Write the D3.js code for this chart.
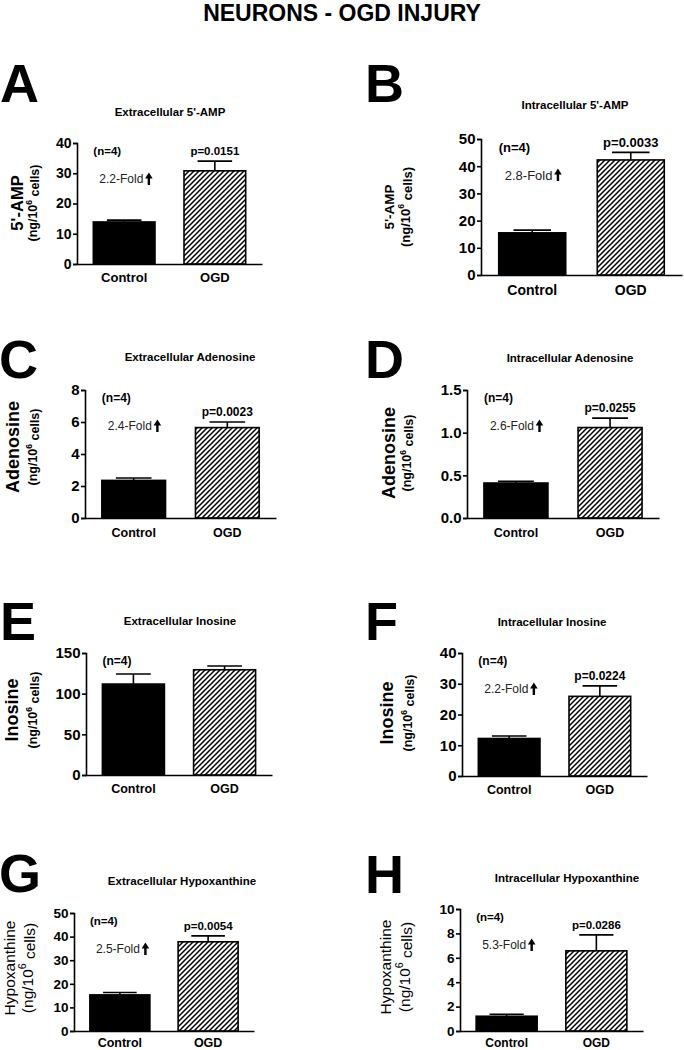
<!DOCTYPE html>
<html>
<head>
<meta charset="utf-8">
<script src="https://cdn.jsdelivr.net/npm/d3@7"></script>
<style>
  html, body { margin: 0; padding: 0; background: #fff; }
  svg { display: block; font-family: "Liberation Sans", Arial, Helvetica, sans-serif; }
</style>
</head>
<body>
<svg id="chart" width="684" height="1050"></svg>
<script>
// ---------------- DATA ----------------
const figureTitle = "NEURONS - OGD INJURY";
const panelLetters = ["A", "B", "C", "D", "E", "F", "G", "H"];
const panelTitles = [
  "Extracellular 5'-AMP", "Intracellular 5'-AMP",
  "Extracellular Adenosine", "Intracellular Adenosine",
  "Extracellular Inosine", "Intracellular Inosine",
  "Extracellular Hypoxanthine", "Intracellular Hypoxanthine"
];
const groups = ["Control", "OGD"];
const yAxisLabels = ["5'-AMP", "5'-AMP", "Adenosine", "Adenosine", "Inosine", "Inosine", "Hypoxanthine", "Hypoxanthine"];
const unitParts = ["(ng/10", "6", " cells)"];
const controlMean = [13.9, 15.5, 2.35, 0.41, 111.8, 12.2, 15.3, 1.21];
const controlErr  = [0.6, 1.0, 0.15, 0.02, 12.3, 0.8, 1.0, 0.16];
const ogdMean     = [30.8, 42.3, 5.65, 1.06, 129.4, 25.9, 37.8, 6.57];
const ogdErr      = [3.2, 2.8, 0.35, 0.11, 4.6, 3.4, 2.5, 1.31];
const yTicks = [
  [0, 10, 20, 30, 40], [0, 10, 20, 30, 40, 50],
  [0, 2, 4, 6, 8], [0, 0.5, 1.0, 1.5],
  [0, 50, 100, 150], [0, 10, 20, 30, 40],
  [0, 10, 20, 30, 40, 50], [0, 2, 4, 6, 8, 10]
];
const yTickFormats = ["d", "d", "d", ".1f", "d", "d", "d", "d"];
const nLabels = ["(n=4)", "(n=4)", "(n=4)", "(n=4)", "(n=4)", "(n=4)", "(n=4)", "(n=4)"];
const foldLabels = ["2.2-Fold", "2.8-Fold", "2.4-Fold", "2.6-Fold", null, "2.2-Fold", "2.5-Fold", "5.3-Fold"];
const pLabels = ["p=0.0151", "p=0.0033", "p=0.0023", "p=0.0255", null, "p=0.0224", "p=0.0054", "p=0.0286"];

// ---------------- LAYOUT ----------------
const layout = [
  {ax: 77,  end: 262, top: 143, bot: 264,  lx: 0,   ly: 102, tx: 170, ty: 112, l1: 17,  l2: 33,  lyc: 203, f1: 16.5, w1: "bold", f2: 12.5, w2: "bold", tick: 14, cat: 13, catY: 13, ann: 11.5, fold: 12},
  {ax: 481, end: 682, top: 139, bot: 275,  lx: 365, ly: 102, tx: 575, ty: 105, l1: 389, l2: 405, lyc: 207, f1: 13.5, w1: "bold", f2: 13, w2: "bold", tick: 15, cat: 14, catY: 15, ann: 13, fold: 13},
  {ax: 85,  end: 276, top: 390, bot: 518,  lx: -1,  ly: 378, tx: 190, ty: 357, l1: 13,  l2: 33,  lyc: 447, f1: 18, w1: "bold", f2: 12.5, w2: "bold", tick: 15, cat: 12.5, catY: 15, ann: 12, fold: 12},
  {ax: 467, end: 659, top: 390, bot: 518,  lx: 365, ly: 378, tx: 570, ty: 358, l1: 389, l2: 407, lyc: 453, f1: 18, w1: "bold", f2: 12.5, w2: "bold", tick: 15, cat: 12.5, catY: 15, ann: 12, fold: 12},
  {ax: 86,  end: 272, top: 653, bot: 775,  lx: 0,   ly: 640, tx: 180, ty: 621, l1: 12,  l2: 33,  lyc: 710, f1: 18, w1: "bold", f2: 12.5, w2: "bold", tick: 15, cat: 12.5, catY: 14, ann: 12, fold: 12},
  {ax: 462, end: 647, top: 653, bot: 776,  lx: 365, ly: 640, tx: 552, ty: 622, l1: 387, l2: 408, lyc: 713, f1: 18, w1: "bold", f2: 12.5, w2: "bold", tick: 15, cat: 12.5, catY: 13.5, ann: 12, fold: 12},
  {ax: 74,  end: 254, top: 913, bot: 1031, lx: -1,  ly: 892, tx: 182, ty: 881, l1: 9,   l2: 27,  lyc: 968, f1: 15.5, w1: "normal", f2: 15.5, w2: "normal", tick: 13.5, cat: 12.5, catY: 12, ann: 11.5, fold: 12},
  {ax: 460, end: 643, top: 909, bot: 1031, lx: 365, ly: 893, tx: 567, ty: 878, l1: 385, l2: 404, lyc: 967, f1: 15.5, w1: "normal", f2: 15.5, w2: "normal", tick: 13.5, cat: 12, catY: 12, ann: 11.5, fold: 12}
];

const svg = d3.select("#chart");

// hatch pattern
const HS = 5;
const defs = svg.append("defs");
const pat = defs.append("pattern")
  .attr("id", "hatch").attr("patternUnits", "userSpaceOnUse")
  .attr("width", HS).attr("height", HS);
pat.append("rect").attr("width", HS).attr("height", HS).attr("fill", "#fff");
pat.append("path")
  .attr("d", `M-1,1 l2,-2 M0,${HS} l${HS},-${HS} M${HS - 1},${HS + 1} l2,-2`)
  .attr("stroke", "#000").attr("stroke-width", 1.5);

// figure title
svg.append("text")
  .attr("x", 342).attr("y", 21)
  .attr("text-anchor", "middle")
  .attr("font-size", 23).attr("font-weight", "bold")
  .text(figureTitle);

panelLetters.forEach((letter, i) => {
  const L = layout[i];
  const g = svg.append("g");
  const yMax = d3.max(yTicks[i]);

  const y = d3.scaleLinear().domain([0, yMax]).range([L.bot, L.top]);
  const x = d3.scaleBand().domain(groups).range([L.ax, L.end])
    .paddingInner(0.32).paddingOuter(0.18).align(0.5);

  g.append("text").attr("x", L.lx).attr("y", L.ly)
    .attr("font-size", 54).attr("font-weight", "bold").text(letter);

  g.append("text").attr("x", L.tx).attr("y", L.ty)
    .attr("text-anchor", "middle").attr("dominant-baseline", "central")
    .attr("font-size", 11.5).attr("font-weight", "bold")
    .text(panelTitles[i]);

  const yAx = g.append("g").attr("transform", `translate(${L.ax},0)`)
    .call(d3.axisLeft(y).tickValues(yTicks[i]).tickSize(4).tickPadding(1.5)
      .tickFormat(d3.format(yTickFormats[i])));
  yAx.select(".domain").attr("stroke", "#000").attr("stroke-width", 1.6);
  yAx.selectAll(".tick line").attr("stroke", "#000").attr("stroke-width", 1.6);
  yAx.selectAll(".tick text").attr("fill", "#000")
    .attr("font-size", L.tick).attr("font-weight", "bold")
    .attr("font-family", "'Liberation Sans', Arial, sans-serif");

  const means = [controlMean[i], ogdMean[i]];
  const errs = [controlErr[i], ogdErr[i]];
  const bw = x.bandwidth();

  groups.forEach((grp, k) => {
    const cx = x(grp) + bw / 2;
    g.append("line").attr("x1", cx).attr("x2", cx)
      .attr("y1", y(means[k])).attr("y2", y(means[k] + errs[k]))
      .attr("stroke", "#000").attr("stroke-width", 1.6);
    g.append("line").attr("x1", cx - bw * 0.28).attr("x2", cx + bw * 0.28)
      .attr("y1", y(means[k] + errs[k])).attr("y2", y(means[k] + errs[k]))
      .attr("stroke", "#000").attr("stroke-width", 1.6);
    g.append("rect")
      .attr("x", x(grp)).attr("y", y(means[k]))
      .attr("width", bw).attr("height", y(0) - y(means[k]))
      .attr("fill", k === 0 ? "#000" : "url(#hatch)")
      .attr("stroke", "#000").attr("stroke-width", 1.6);
  });

  const xAx = g.append("g").attr("transform", `translate(0,${L.bot})`)
    .call(d3.axisBottom(x).tickSize(0).tickSizeOuter(0).tickPadding(L.catY - 0.36 * L.cat));
  xAx.select(".domain").attr("stroke", "#000").attr("stroke-width", 1.6);
  xAx.selectAll(".tick text").attr("fill", "#000")
    .attr("font-size", L.cat).attr("font-weight", "bold")
    .attr("font-family", "'Liberation Sans', Arial, sans-serif");

  g.append("text")
    .attr("transform", `translate(${L.l1},${L.lyc}) rotate(-90)`)
    .attr("text-anchor", "middle").attr("dominant-baseline", "central")
    .attr("font-size", L.f1).attr("font-weight", L.w1)
    .text(yAxisLabels[i]);
  const u = g.append("text")
    .attr("transform", `translate(${L.l2},${L.lyc}) rotate(-90)`)
    .attr("text-anchor", "middle").attr("dominant-baseline", "central")
    .attr("font-size", L.f2).attr("font-weight", L.w2);
  u.append("tspan").text(unitParts[0]);
  u.append("tspan").attr("dy", "-0.45em").attr("font-size", L.f2 * 0.68).text(unitParts[1]);
  u.append("tspan").attr("dy", "0.45em").text(unitParts[2]);

  const x0 = x(groups[0]);
  g.append("text").attr("x", x0).attr("y", L.top + 8)
    .attr("dominant-baseline", "central")
    .attr("font-size", L.ann).attr("font-weight", "bold")
    .text(nLabels[i]);

  if (pLabels[i]) {
    g.append("text").attr("x", x(groups[1]) + bw / 2)
      .attr("y", y(ogdMean[i] + ogdErr[i]) - 10)
      .attr("text-anchor", "middle").attr("dominant-baseline", "central")
      .attr("font-size", L.ann).attr("font-weight", "bold")
      .text(pLabels[i]);
  }
  if (foldLabels[i]) {
    const fy = L.top + 36;
    const ft = g.append("text").attr("x", x0 + 6).attr("y", fy)
      .attr("dominant-baseline", "central")
      .attr("font-size", L.fold).attr("fill", "#222")
      .text(foldLabels[i]);
    const tw = ft.node().getComputedTextLength();
    const axc = x0 + 6 + tw + 5.5;
    const t = fy - 6.5, b = fy + 6;
    g.append("path")
      .attr("d", `M${axc},${t} L${axc + 3.8},${t + 6} L${axc + 1.2},${t + 6} L${axc + 1.2},${b} L${axc - 1.2},${b} L${axc - 1.2},${t + 6} L${axc - 3.8},${t + 6} Z`)
      .attr("fill", "#000");
  }
});
</script>
</body>
</html>
